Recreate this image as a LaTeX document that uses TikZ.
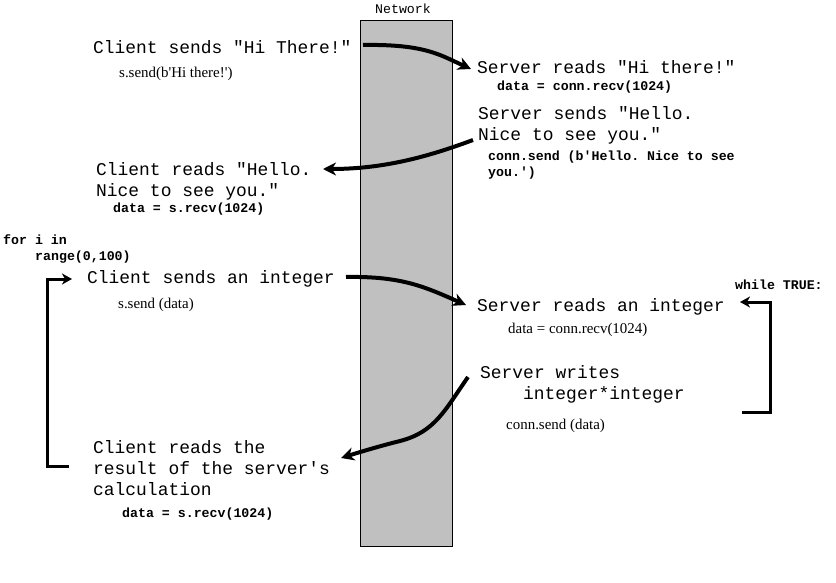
\documentclass[tikz,border=0pt]{standalone}
\usepackage{fontspec}
\setmainfont{Liberation Serif}
\setmonofont{Liberation Mono}
\usetikzlibrary{arrows.meta}
\definecolor{netgray}{RGB}{192,192,192}
\begin{document}
\begin{tikzpicture}[x=1bp,y=-1bp,
  big/.style={anchor=base west,inner sep=0pt,font=\ttfamily\fontsize{18}{21}\selectfont},
  code/.style={anchor=base west,inner sep=0pt,font=\ttfamily\bfseries\fontsize{13.3}{17}\selectfont},
  pycode/.style={anchor=base west,inner sep=0pt,font=\rmfamily\fontsize{15}{18}\selectfont},
  msg/.style={line width=4bp,-{Stealth[length=13bp,width=13bp,inset=4bp]}},
  loopline/.style={line width=3bp,-{Stealth[length=10bp,width=11bp,inset=3bp]}}
]
\useasboundingbox (0,0) rectangle (836,583);
% network column
\node[draw=black,fill=netgray,line width=1bp,anchor=north west,inner sep=0pt,
      minimum width=92bp,minimum height=526bp] (network) at (360,20) {};
\node[anchor=base,inner sep=0pt,font=\ttfamily\fontsize{13.3}{16}\selectfont] (netlabel) at (403,14) {Network};

% first exchange
\node[big] (c1) at (93,54) {Client sends "Hi There!"};
\node[pycode] (c1c) at (119,78) {s.send(b\textquotesingle Hi there!\textquotesingle)};
\node[big] (s1) at (477,74) {Server reads "Hi there!"};
\node[code] (s1c) at (497,91) {data = conn.recv(1024)};
\node[big] (s2a) at (478,120) {Server sends "Hello.};
\node[big] (s2b) at (478,141) {Nice to see you."};
\node[code] (s2c) at (488,161) {conn.send (b\textquotesingle Hello. Nice to see};
\node[code] (s2d) at (488,177) {you.\textquotesingle)};
\node[big] (c2a) at (96,176) {Client reads "Hello.};
\node[big] (c2b) at (96,197) {Nice to see you."};
\node[code] (c2c) at (113,213) {data = s.recv(1024)};

% loop part
\node[code] (fora) at (3,245) {for i in};
\node[code] (forb) at (35,260) {range(0,100)};
\node[big] (c3) at (87,283) {Client sends an integer};
\node[pycode] (c3c) at (118,308) {s.send (data)};
\node[big] (c4a) at (93,453) {Client reads the};
\node[big] (c4b) at (93,474) {result of the server\textquotesingle s};
\node[big] (c4c) at (93,495) {calculation};
\node[code] (c4d) at (122,517) {data = s.recv(1024)};

\node[code] (wh) at (735,289) {while TRUE:};
\node[big] (s3) at (477,311) {Server reads an integer};
\node[pycode] (s3c) at (508,333) {data = conn.recv(1024)};
\node[big] (s4a) at (480,378) {Server writes};
\node[big] (s4b) at (523,399) {integer*integer};
\node[pycode] (s4c) at (506,429) {conn.send (data)};

% connector end points
\coordinate (a1s) at (363,45);
\coordinate (a1e) at (471,69);
\coordinate (a2s) at (473,140);
\coordinate (a2e) at (323,169);
\coordinate (a3s) at (346,277);
\coordinate (a3e) at (466,305);
\coordinate (a4s) at (468,377);
\coordinate (a4m) at (400,441);
\coordinate (a4e) at (341,458);

\draw[msg] (a1s) .. controls (425,44) and (440,55) .. (a1e);
\draw[msg] (a2s) .. controls (430,156) and (385,169) .. (a2e);
\draw[msg] (a3s) .. controls (402,276) and (425,287) .. (a3e);
\draw[msg] (a4s) .. controls (445,410) and (435,432) .. (a4m)
               .. controls (380,446) and (360,452) .. (a4e);

% loop brackets
\coordinate (lb) at (69,466);
\coordinate (lc) at (47,279);
\coordinate (lt) at (72,279);
\draw[loopline] (lb) -| (lc) -- (lt);
\coordinate (rb) at (742,412);
\coordinate (rc) at (770,302);
\coordinate (rt) at (740,302);
\draw[loopline] (rb) -| (rc) -- (rt);
\end{tikzpicture}
\end{document}
